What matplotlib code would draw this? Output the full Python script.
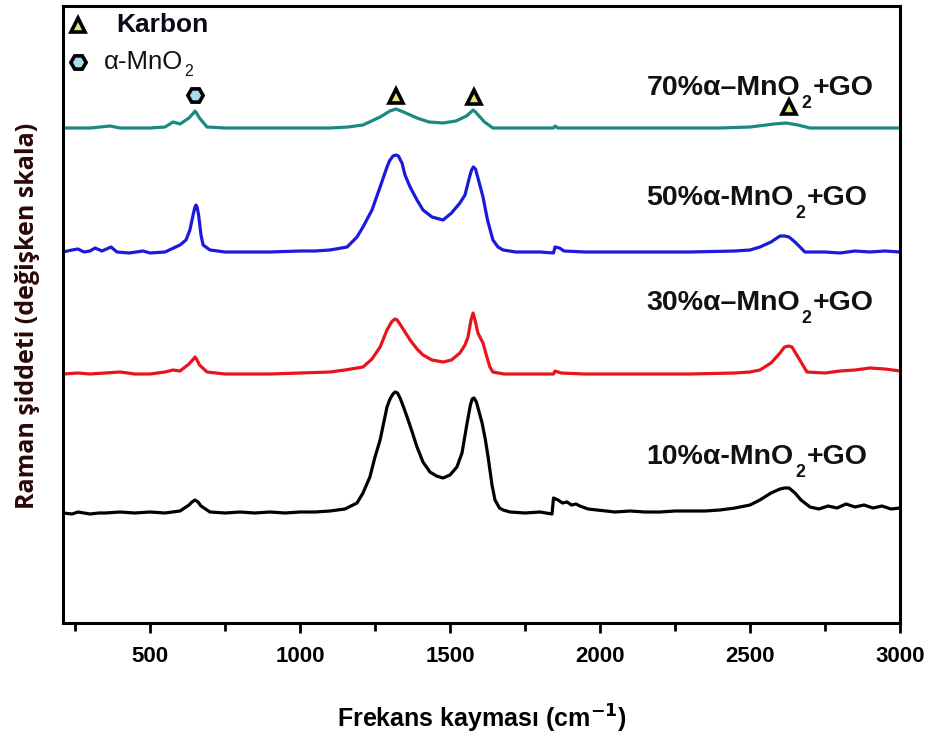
import matplotlib
matplotlib.use("Agg")
import matplotlib.pyplot as plt

# ---- data (wavenumber cm^-1, stacked intensity, arbitrary units) ----
x10 = [210, 240, 260, 300, 330, 350, 400, 450, 500, 550, 600, 630, 640, 650, 660, 670, 700, 750, 800, 850,
       900, 950, 1000, 1050, 1100, 1150, 1190, 1210, 1233, 1250, 1267, 1290, 1300, 1310, 1317, 1325, 1335,
       1345, 1357, 1375, 1390, 1410, 1433, 1455, 1477, 1500, 1523, 1540, 1557, 1568, 1574, 1580, 1588,
       1598, 1607, 1618, 1627, 1640, 1650, 1665, 1677, 1700, 1750, 1800, 1840, 1845, 1860, 1875, 1890,
       1905, 1920, 1933, 1960, 1990, 2050, 2100, 2150, 2200, 2250, 2300, 2350, 2400, 2450, 2500, 2533,
       2570, 2600, 2615, 2630, 2650, 2670, 2700, 2730, 2760, 2790, 2820, 2850, 2880, 2910, 2940, 2970, 3000]
y10 = [112, 111, 113, 111, 112, 112, 113, 112, 113, 112, 114, 120, 123, 125, 123, 119, 113, 112, 113, 112,
       113, 112, 113, 113, 114, 116, 122, 132, 148, 168, 185, 218, 226, 231, 233, 232, 226,
       218, 208, 192, 178, 163, 153, 149, 147, 150, 158, 172, 202, 220, 226, 227, 223,
       212, 202, 185, 168, 140, 125, 117, 115, 113, 112, 113, 111, 127, 125, 122, 123,
       120, 121, 119, 116, 115, 113, 114, 113, 113, 114, 114, 114, 115, 117, 120, 125,
       132, 136, 137, 137, 132, 125, 118, 116, 119, 117, 121, 118, 120, 117, 119, 116, 117]

x30 = [210, 260, 300, 350, 400, 450, 500, 550, 577, 600, 630, 645, 650, 655, 665, 690, 750, 800, 900, 1000,
       1100, 1150, 1210, 1240, 1267, 1290, 1305, 1312, 1317, 1324, 1335, 1350, 1367, 1390, 1410, 1440,
       1477, 1505, 1533, 1550, 1560, 1570, 1577, 1585, 1593, 1610, 1623, 1633, 1643, 1680, 1750, 1800,
       1845, 1850, 1870, 1950, 2100, 2300, 2450, 2500, 2533, 2570, 2600, 2615, 2628, 2640, 2660, 2690,
       2750, 2800, 2850, 2900, 2950, 3000]
y30 = [251, 252, 251, 252, 253, 251, 251, 253, 255, 254, 261, 266, 268, 266, 260, 253, 251, 251, 251, 252,
       253, 255, 258, 266, 278, 295, 303, 305, 306, 305, 300, 293, 285, 276, 270, 265,
       263, 265, 272, 280, 288, 305, 312, 303, 292, 282, 268, 258, 253, 251, 251, 251,
       251, 254, 252, 251, 251, 251, 252, 253, 255, 262, 272, 278, 279, 278, 268, 253,
       252, 254, 255, 257, 256, 254]

x50 = [210, 240, 260, 280, 300, 317, 340, 370, 390, 430, 477, 500, 550, 600, 620, 633, 645, 650, 653, 657,
       662, 670, 677, 700, 750, 800, 900, 1000, 1050, 1100, 1157, 1190, 1210, 1240, 1267, 1290, 1298,
       1310, 1320, 1328, 1340, 1350, 1367, 1390, 1410, 1440, 1477, 1505, 1533, 1550, 1565, 1572, 1578,
       1585, 1595, 1610, 1625, 1643, 1660, 1677, 1720, 1800, 1845, 1850, 1865, 1880, 1950, 2100, 2300,
       2450, 2500, 2533, 2570, 2600, 2615, 2630, 2650, 2683, 2750, 2800, 2850, 2900, 2950, 3000]
y50 = [373, 375, 376, 373, 374, 377, 374, 378, 373, 372, 374, 372, 373, 380, 385, 395, 412, 418, 420, 418,
       410, 390, 380, 375, 373, 373, 373, 374, 374, 375, 378, 388, 398, 415, 438, 458, 464,
       469, 470, 469, 462, 450, 438, 425, 415, 408, 405, 412, 422, 430, 448, 455, 458,
       456, 445, 428, 405, 385, 378, 375, 373, 373, 372, 378, 377, 374, 373, 373, 373,
       374, 375, 378, 383, 389, 389, 388, 383, 373, 373, 372, 374, 373, 374, 373]

x70 = [210, 300, 367, 400, 500, 550, 577, 600, 630, 645, 650, 655, 665, 690, 750, 900, 1000, 1100, 1160,
       1210, 1267, 1300, 1320, 1345, 1390, 1430, 1477, 1520, 1555, 1570, 1577, 1585, 1600, 1615, 1643,
       1700, 1800, 1845, 1850, 1860, 2000, 2200, 2400, 2500, 2580, 2620, 2660, 2700, 2800, 2900, 3000]
y70 = [497, 497, 499, 497, 497, 498, 503, 501, 507, 512, 514, 512, 507, 498, 497, 497, 497, 497, 498,
       500, 508, 514, 516, 513, 507, 503, 502, 504, 509, 513, 515, 513, 508, 503, 497,
       497, 497, 497, 499, 497, 497, 497, 497, 498, 501, 502, 500, 497, 497, 497, 497]

series_main = ['10%α-MnO', '30%α–MnO', '50%α-MnO', '70%α–MnO']
series_colors = ['#000000', '#e8141c', '#1a1adc', '#1a8a80']
label_y = [168, 322, 427, 537]

karbon_x = [1320, 1580, 2630]
karbon_y = [529, 528, 518]
mno2_x = [650]
mno2_y = [530]

xticks = [500, 1000, 1500, 2000, 2500, 3000]

FONT = 'Liberation Sans'

# ---- figure ----
fig = plt.figure(figsize=(9.3, 7.35), dpi=100)
ax = fig.add_axes([63/930, 1 - 623/735, 837/930, 617/735])

for xs, ys, c in zip([x10, x30, x50, x70], [y10, y30, y50, y70], series_colors):
    ax.plot(xs, ys, color=c, lw=2.3, solid_joinstyle='round')


def sub_label(x, y, main, sub, tail, size, weight, color, transform=None, drop=-3):
    kw = dict(fontsize=size, fontweight=weight, family=FONT, color=color)
    if transform is None:
        transform = ax.transData
    t1 = ax.text(x, y, main, ha='left', va='center', transform=transform, **kw)
    t2 = ax.annotate(sub, xy=(1, 0.05), xycoords=t1, xytext=(1, drop), textcoords='offset points',
                     ha='left', va='center', **dict(kw, fontsize=size * 0.62))
    if tail:
        ax.annotate(tail, xy=(1, 0), xycoords=(t2, t1), xytext=(1, 0), textcoords='offset points',
                    ha='left', va='bottom', **kw)


for lab, ly in zip(series_main, label_y):
    sub_label(2155, ly, lab, '2', '+GO', 20.5, 'bold', '#111111')

tri_kw = dict(marker='^', ms=10, mfc='#e6e27a', mec='black', mew=2.6, ls='none')
hex_kw = dict(marker='H', ms=11, mfc='#a8dce6', mec='black', mew=2.6, ls='none')
ax.plot(karbon_x, karbon_y, **tri_kw)
ax.plot(mno2_x, mno2_y, **hex_kw)

# legend
ax.plot([(78-63)/837], [(623-25)/617], transform=ax.transAxes, clip_on=False, **tri_kw)
ax.plot([(78-63)/837], [(623-62)/617], transform=ax.transAxes, clip_on=False, **hex_kw)
ax.text((116-63)/837, (623-25)/617, 'Karbon', transform=ax.transAxes, va='center', ha='left',
        fontsize=19, fontweight='bold', family=FONT, color='#0a0a1a')
sub_label((104-63)/837, (623-62)/617, 'α-MnO', '2', '', 18.5, 'normal', '#111111',
          transform=ax.transAxes, drop=1)

ax.set_xlim(210, 3000)
ax.set_ylim(2, 619)
ax.set_xticks(xticks)
ax.set_xticks([250 + 500*i for i in range(6)], minor=True)
ax.set_yticks([])
ax.tick_params(axis='x', which='major', direction='out', length=7.5, width=2, pad=9,
               labelsize=16)
ax.tick_params(axis='x', which='minor', direction='out', length=6, width=2)
for lab in ax.get_xticklabels():
    lab.set_fontweight('bold')
    lab.set_family(FONT)
for sp in ax.spines.values():
    sp.set_linewidth(2.2)

ax.set_xlabel('Frekans kayması (cm$^{\\mathbf{-1}}$)', fontsize=18, fontweight='bold',
              family=FONT, labelpad=26)
ax.set_ylabel('Raman şiddeti (değişken skala)', fontsize=18, fontweight='bold',
              family='Open Sans', color='#2a0808')
ax.yaxis.set_label_coords(-0.028, 0.497)

fig.savefig('out.png', dpi=100)
